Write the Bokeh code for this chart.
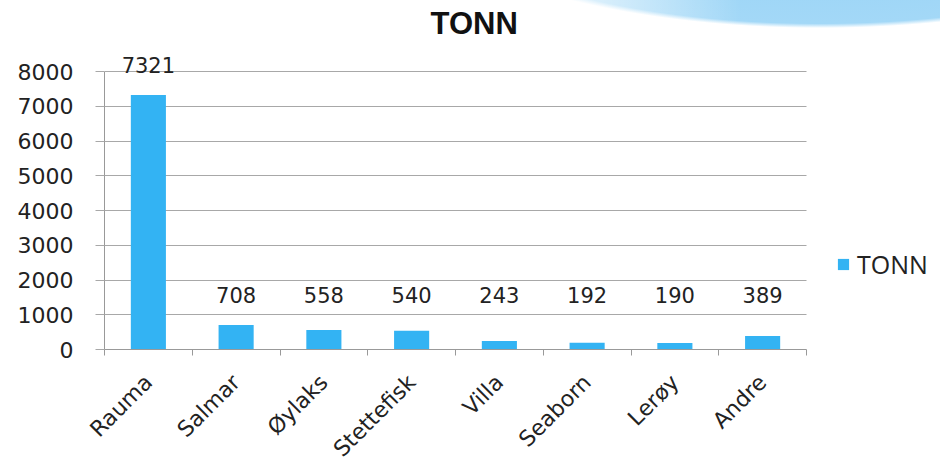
import math
from bokeh.plotting import figure
from bokeh.models import (ColumnDataSource, FixedTicker, LabelSet, Range1d,
                          Legend, LegendItem, InlineStyleSheet)
from bokeh.core.properties import value
from bokeh.embed import file_html
from bokeh.resources import INLINE

# ---- data ----
categories = ["Rauma", "Salmar", "Øylaks", "Stettefisk", "Villa", "Seaborn", "Lerøy", "Andre"]
tonn = [7321, 708, 558, 540, 243, 192, 190, 389]
y_ticks = [0, 1000, 2000, 3000, 4000, 5000, 6000, 7000, 8000]
series_name = "TONN"

BAR = "#33b3f3"
GRID = "#a8a8a8"
AXIS = "#999999"
TXT = "#222222"

n = len(categories)
centers = [i + 0.5 for i in range(n)]
bounds = list(range(n + 1))
# small bars share one label height (as in the original chart)
label_floor = sorted(tonn)[-2]
label_y = [max(v, label_floor) for v in tonn]

src = ColumnDataSource(dict(x=centers, top=tonn, ly=label_y,
                            txt=[str(v) for v in tonn]))

# layout (pixels inside the canvas)
W, H = 940, 474
LEFT, PLOT_RIGHT, TOP, Y_MAX_PX, BOTTOM = 104, 806, 40, 71, 349
x_right = n * (W - LEFT) / (PLOT_RIGHT - LEFT)          # frame runs to canvas edge
y_top = y_ticks[-1] * (BOTTOM - TOP) / (BOTTOM - Y_MAX_PX)

p = figure(width=W, height=H, output_backend="svg", toolbar_location=None,
           x_range=Range1d(0, x_right), y_range=Range1d(y_ticks[0], y_top),
           min_border_left=LEFT, min_border_right=0, min_border_top=TOP,
           min_border_bottom=H - BOTTOM)
p.outline_line_color = None
p.background_fill_alpha = 0
p.border_fill_alpha = 0

# decorative swoosh as a CSS background behind the transparent canvas
p.stylesheets = [InlineStyleSheet(css="""
:host {
  background:
    linear-gradient(to right, rgba(255,255,255,0.7) 0px, rgba(255,255,255,0.7) 570px, rgba(255,255,255,0) 740px),
    radial-gradient(ellipse 430px 150px at 820px -122px, #8ecff5 0%, #a3d8f7 97%, rgba(255,255,255,0) 100%),
    white;
}
""")]

# title
p.title.text = series_name
p.title.align = "left"
p.title.offset = 326
p.title.text_font = "Liberation Sans"
p.title.text_font_style = "bold"
p.title.text_font_size = "31px"
p.title.text_color = "#111111"
p.title.standoff = 0

r = p.vbar(x="x", top="top", width=0.4, source=src, fill_color=BAR, line_color=None)

# value labels
labels = LabelSet(x="x", y="ly", text="txt", source=src, text_align="center",
                  text_baseline="alphabetic", y_offset=22, text_font=value("DejaVu Sans"),
                  text_font_size=value("21px"), text_color=TXT)
p.add_layout(labels)

# y axis
p.yaxis.ticker = FixedTicker(ticks=y_ticks)
p.yaxis.bounds = (y_ticks[0], y_ticks[-1])
p.yaxis.axis_line_color = AXIS
p.yaxis.major_tick_line_color = GRID
p.yaxis.major_tick_out = 9
p.yaxis.major_tick_in = 0
p.yaxis.minor_tick_line_color = None
p.yaxis.major_label_text_font = "DejaVu Sans"
p.yaxis.major_label_text_font_size = "22px"
p.yaxis.major_label_text_color = TXT
p.yaxis.major_label_standoff = 22

# x axis
p.xaxis.ticker = FixedTicker(ticks=centers, minor_ticks=bounds)
p.xaxis.bounds = (0, n)
p.xaxis.major_label_overrides = {c: name for c, name in zip(centers, categories)}
p.xaxis.major_label_orientation = math.pi / 4
p.xaxis.major_tick_line_color = None
p.xaxis.major_tick_out = 0
p.xaxis.major_tick_in = 0
p.xaxis.minor_tick_line_color = AXIS
p.xaxis.minor_tick_out = 6
p.xaxis.minor_tick_in = 0
p.xaxis.axis_line_color = AXIS
p.xaxis.major_label_text_font = "DejaVu Sans"
p.xaxis.major_label_text_font_size = "22px"
p.xaxis.major_label_text_color = TXT
p.xaxis.major_label_standoff = 23

p.xgrid.grid_line_color = None
p.ygrid.grid_line_color = GRID
p.ygrid.ticker = FixedTicker(ticks=y_ticks)
p.ygrid.cross_bounds = (0, n)

# legend (inside the extended frame, right of the bars)
legend = Legend(items=[LegendItem(label=series_name, renderers=[r])], location=(732, 68))
legend.border_line_color = None
legend.background_fill_alpha = 0
legend.padding = 0
legend.margin = 0
legend.glyph_width = 14
legend.glyph_height = 14
legend.label_standoff = 7
legend.label_text_font = "Open Sans"
legend.label_text_font_size = "25px"
legend.label_text_color = TXT
p.add_layout(legend, "center")

open("out.html", "w").write(file_html(p, INLINE))
